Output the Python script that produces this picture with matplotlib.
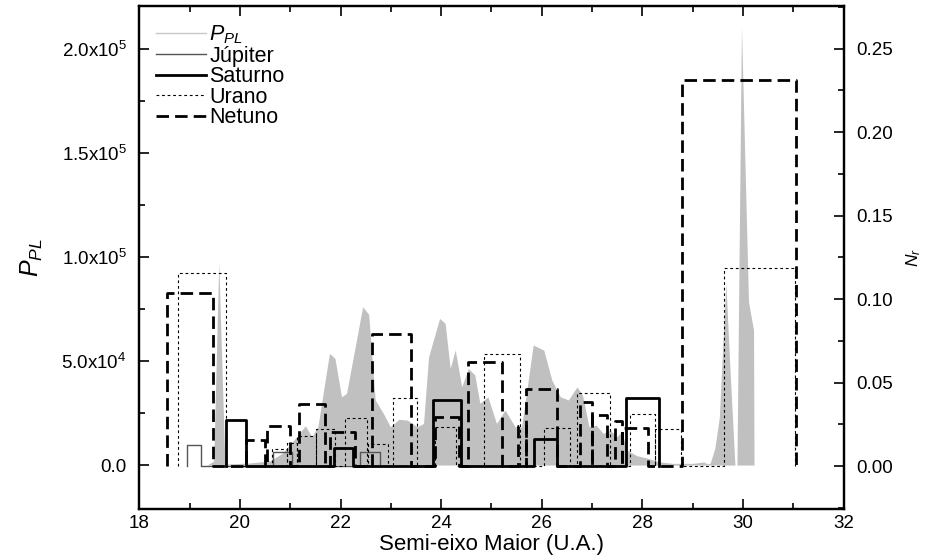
import matplotlib
matplotlib.use("Agg")
import matplotlib.pyplot as plt
from matplotlib.ticker import MultipleLocator, FuncFormatter

plt.rcParams['font.family'] = ['Liberation Sans', 'DejaVu Sans']
plt.rcParams['mathtext.fontset'] = 'custom'
plt.rcParams['mathtext.rm'] = 'Liberation Sans'
plt.rcParams['mathtext.it'] = 'Liberation Sans:italic'

# P_PL profile (left axis)
a_ppl = [19.35, 19.48, 19.58, 19.70, 19.74, 20.2, 20.6, 20.85, 21.13, 21.30,
         21.43, 21.55, 21.78, 21.89, 22.02, 22.12, 22.44, 22.56, 22.69, 22.85,
         22.99, 23.16, 23.33, 23.52, 23.65, 23.75, 23.97, 24.08, 24.18, 24.28,
         24.41, 24.54, 24.67, 24.77, 24.93, 25.10, 25.27, 25.47, 25.60, 25.83,
         26.04, 26.20, 26.37, 26.53, 26.70, 26.81, 26.94, 27.08, 27.22, 27.36,
         27.49, 27.59, 27.69, 27.89, 28.09, 28.32, 28.6, 29.0, 29.22, 29.30,
         29.35, 29.44, 29.53, 29.61, 29.66, 29.74, 29.84, 29.88, 29.97, 30.11,
         30.21, 30.22]
p_ppl = [0, 2000, 97700, 2000, 500, 1000, 2000, 5800, 13600, 18900,
         13600, 18400, 53700, 51300, 32800, 34500, 76100, 72500, 31300, 24900,
         18400, 22000, 21600, 18400, 20000, 52000, 70500, 68100, 46500, 55300,
         37600, 46500, 43300, 29700, 32800, 20000, 26400, 18400, 18400, 57700,
         55300, 40900, 32800, 31300, 37600, 33700, 18400, 19200, 15200, 16800,
         13600, 16000, 7200, 4500, 3400, 1600, 800, 800, 1500, 500,
         1000, 8000, 23000, 63000, 87400, 47000, 0, 0, 210700, 78500,
         64900, 0]

# N_r bars (right axis): left edge, right edge, height
jup_l = [18.94, 20.66, 22.39]
jup_r = [19.23, 21.03, 22.79]
jup_h = [0.0126, 0.0086, 0.0086]

sat_l = [19.72, 21.88, 23.84, 25.84, 27.68]
sat_r = [20.13, 22.25, 24.40, 26.31, 28.33]
sat_h = [0.0275, 0.011, 0.0395, 0.016, 0.0405]

ura_l = [18.76, 20.63, 20.93, 21.13, 21.51, 22.09, 22.55, 23.05, 23.88, 24.86,
         26.05, 26.71, 27.76, 28.25, 29.63]
ura_r = [19.72, 20.93, 21.13, 21.51, 21.89, 22.52, 22.94, 23.53, 24.30, 25.56,
         26.56, 27.35, 28.25, 28.76, 31.03]
ura_h = [0.1154, 0.010, 0.014, 0.018, 0.022, 0.0286, 0.013, 0.041, 0.0232, 0.0669,
         0.0226, 0.0435, 0.031, 0.022, 0.1184]

net_l = [18.56, 20.13, 20.53, 21.17, 21.80, 22.63, 23.87, 24.54, 25.52, 25.69,
         26.76, 26.99, 27.46, 27.60, 28.78]
net_r = [19.46, 20.50, 21.00, 21.69, 22.29, 23.40, 24.35, 25.22, 25.69, 26.31,
         26.99, 27.30, 27.60, 28.11, 31.05]
net_h = [0.1034, 0.0156, 0.024, 0.037, 0.0205, 0.0789, 0.0295, 0.0623, 0.024, 0.046,
         0.0385, 0.0305, 0.027, 0.023, 0.231]


def bar_path(lefts, rights, heights):
    xs, ys = [], []
    for l, r, h in zip(lefts, rights, heights):
        xs += [l, l, r, r]
        ys += [0, h, h, 0]
    return xs, ys


fig, ax = plt.subplots(figsize=(9.26, 5.59), dpi=100)
fig.subplots_adjust(left=0.1504, right=0.911, top=0.989, bottom=0.0894)

ax.fill_between(a_ppl, 0, p_ppl, color='#c0c0c0', lw=0)
ax.set_xlim(18, 32)
ax.set_ylim(-21150, 220670)

ax2 = ax.twinx()
ax2.set_ylim(-0.0257, 0.2754)

x, y = bar_path(jup_l, jup_r, jup_h)
ax2.plot(x, y, color='#555555', lw=1.0)
x, y = bar_path(sat_l, sat_r, sat_h)
ax2.plot(x, y, color='black', lw=2.0)
x, y = bar_path(ura_l, ura_r, ura_h)
ax2.plot(x, y, color='black', lw=0.8, linestyle=(0, (2.5, 2.5)))
x, y = bar_path(net_l, net_r, net_h)
ax2.plot(x, y, color='black', lw=2.0, linestyle=(0, (4.5, 2.2)))

# legend handles
h0, = ax2.plot([], [], color='#c8c8c8', lw=1.0, label='$P_{PL}$')
h1, = ax2.plot([], [], color='#555555', lw=1.0, label='Júpiter')
h2, = ax2.plot([], [], color='black', lw=2.0, label='Saturno')
h3, = ax2.plot([], [], color='black', lw=0.8, linestyle=(0, (2.5, 2.5)), label='Urano')
h4, = ax2.plot([], [], color='black', lw=2.0, linestyle=(0, (4.5, 2.2)), label='Netuno')
ax2.legend(handles=[h0, h1, h2, h3, h4], loc='upper left', frameon=False,
           fontsize=15.5, handlelength=2.3, handletextpad=0.15, labelspacing=-0.02,
           borderaxespad=0.4, borderpad=0.4, bbox_to_anchor=(0.0, 1.0))

# ticks
ax.xaxis.set_major_locator(MultipleLocator(2))
ax.xaxis.set_minor_locator(MultipleLocator(1))
ax.yaxis.set_major_locator(MultipleLocator(50000))
ax.yaxis.set_minor_locator(MultipleLocator(25000))
ax2.yaxis.set_major_locator(MultipleLocator(0.05))
ax2.yaxis.set_minor_locator(MultipleLocator(0.025))


def sci_fmt(v, pos):
    if abs(v) < 1:
        return '0.0'
    exp = 0
    m = v
    while abs(m) >= 10:
        m /= 10
        exp += 1
    return '%.1fx10$^{%d}$' % (m, exp)


ax.yaxis.set_major_formatter(FuncFormatter(sci_fmt))
ax2.yaxis.set_major_formatter(FuncFormatter(lambda v, p: '%.2f' % v))

ax.tick_params(axis='x', which='both', direction='in', top=True, labelsize=13.5, pad=4)
ax.tick_params(axis='x', which='major', length=7, width=1.2)
ax.tick_params(axis='x', which='minor', length=4, width=1.2)
ax.tick_params(axis='y', which='both', direction='in', labelsize=13.5, pad=9)
ax.tick_params(axis='y', which='major', length=7, width=1.2)
ax.tick_params(axis='y', which='minor', length=4, width=1.2)
ax2.tick_params(axis='y', which='both', direction='in', labelsize=13.5, pad=9)
ax2.tick_params(axis='y', which='major', length=7, width=1.2)
ax2.tick_params(axis='y', which='minor', length=4, width=1.2)

for sp in ax2.spines.values():
    sp.set_linewidth(1.6)
for sp in ax.spines.values():
    sp.set_linewidth(1.6)

ax.set_xlabel('Semi-eixo Maior (U.A.)', fontsize=16, labelpad=2)
ax.set_ylabel('$P_{PL}$', fontsize=18, labelpad=12)
ax2.set_ylabel('$N_r$', fontsize=12.5, labelpad=8)

fig.savefig('out.png', dpi=100)
